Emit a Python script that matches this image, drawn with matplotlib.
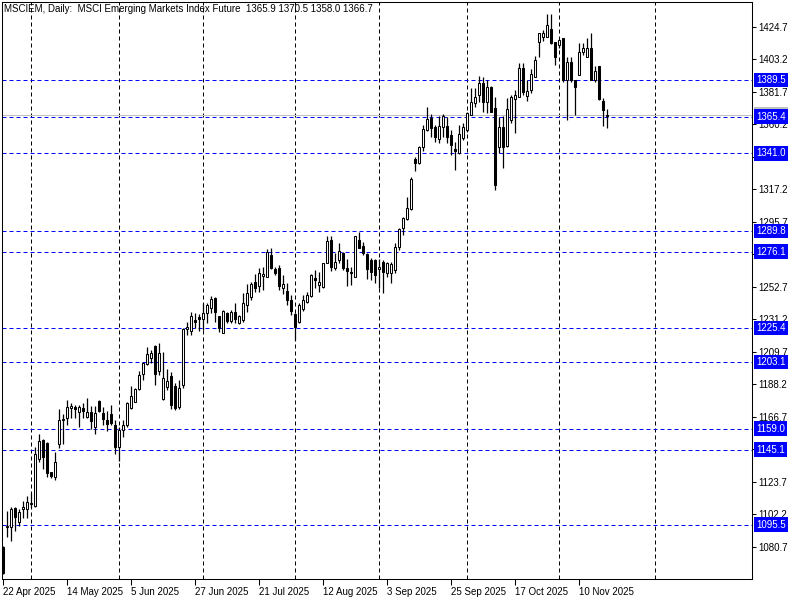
import matplotlib
matplotlib.use("Agg")
import matplotlib.pyplot as plt
import matplotlib.transforms as mtransforms
import numpy as np

# MT4-style daily chart of the MSCI EM index future with horizontal levels.

TITLE = "MSCIEM, Daily:  MSCI Emerging Markets Index Future  1365.9 1370.5 1358.0 1366.7"

opens = [
    1080.9, 1093.7, 1094.1, 1106.3, 1097.4, 1105.6, 1105.6, 1108.9, 1107.9, 1138.7,
    1151.5, 1149.7, 1130.1, 1127.2, 1148.6, 1164.7, 1165.8, 1172.8, 1173.1, 1169.8,
    1172.4, 1166.9, 1169.8, 1160.3, 1177.3, 1169.1, 1164.7, 1168.5, 1161.2, 1146.6,
    1158.1, 1161.2, 1172.4, 1176.8, 1185.2, 1194.9, 1201.5, 1205.5, 1213.7, 1197.3,
    1178.4, 1186.7, 1193.8, 1187.2, 1173.3, 1187.8, 1224.7, 1223.8, 1230.9, 1233.0,
    1231.3, 1235.7, 1238.6, 1245.6, 1233.5, 1222.5, 1235.7, 1230.2, 1235.9, 1229.1,
    1230.9, 1240.8, 1245.9, 1256.2, 1253.3, 1260.2, 1259.5, 1273.8, 1264.4, 1265.1,
    1251.8, 1250.2, 1244.1, 1234.8, 1229.7, 1237.9, 1243.0, 1246.7, 1258.4, 1254.0,
    1252.5, 1268.8, 1283.8, 1265.1, 1270.6, 1275.2, 1265.1, 1262.8, 1259.5, 1283.8,
    1279.8, 1274.7, 1270.6, 1270.6, 1264.4, 1269.4, 1261.7, 1261.9, 1263.7, 1279.3,
    1291.5, 1297.5, 1304.1, 1337.2, 1334.5, 1345.1, 1356.6, 1364.7, 1358.3, 1350.6,
    1358.3, 1359.2, 1353.2, 1344.2, 1341.1, 1351.1, 1356.6, 1366.5, 1374.2, 1379.7,
    1387.8, 1375.3, 1385.2, 1371.3, 1345.5, 1358.3, 1346.0, 1363.2, 1376.9, 1378.6,
    1397.4, 1379.1, 1383.0, 1391.4, 1415.0, 1418.3, 1417.9, 1423.2, 1415.0, 1412.8,
    1417.6, 1389.6, 1401.7, 1389.6, 1392.9, 1408.4, 1404.7, 1411.0, 1389.6, 1398.9,
    1376.0, 1365.9,
]
highs = [
    1081.5, 1104.5, 1107.3, 1106.9, 1105.6, 1110.9, 1114.4, 1116.6, 1147.0, 1155.4,
    1151.8, 1150.1, 1130.5, 1143.5, 1172.0, 1168.5, 1177.9, 1176.1, 1174.6, 1174.6,
    1175.7, 1179.0, 1173.9, 1173.9, 1177.6, 1173.5, 1170.6, 1174.4, 1164.7, 1160.3,
    1164.7, 1176.8, 1187.2, 1185.7, 1197.1, 1203.3, 1213.2, 1211.0, 1214.3, 1215.4,
    1209.9, 1198.4, 1196.5, 1189.2, 1191.2, 1225.4, 1229.7, 1236.3, 1235.7, 1234.8,
    1242.3, 1242.3, 1246.7, 1245.9, 1233.8, 1237.5, 1236.3, 1237.5, 1241.9, 1234.2,
    1248.5, 1254.7, 1256.2, 1261.3, 1265.1, 1266.1, 1277.6, 1278.3, 1266.1, 1267.2,
    1260.6, 1255.5, 1247.4, 1235.3, 1242.3, 1247.4, 1249.6, 1261.3, 1263.9, 1262.8,
    1268.8, 1286.4, 1286.4, 1275.4, 1282.0, 1276.0, 1271.0, 1266.1, 1286.6, 1289.3,
    1282.7, 1275.4, 1271.7, 1271.0, 1271.0, 1270.6, 1269.4, 1269.4, 1281.6, 1291.5,
    1299.2, 1312.4, 1325.7, 1338.9, 1346.0, 1359.9, 1372.0, 1367.1, 1359.9, 1365.8,
    1367.1, 1364.9, 1356.6, 1348.8, 1359.9, 1361.0, 1368.7, 1384.1, 1384.1, 1392.3,
    1391.8, 1389.6, 1385.7, 1378.6, 1364.9, 1365.8, 1377.5, 1379.7, 1383.0, 1400.7,
    1400.7, 1389.6, 1396.7, 1405.5, 1420.9, 1422.7, 1433.3, 1433.3, 1415.0, 1416.6,
    1417.6, 1405.1, 1405.1, 1389.6, 1413.9, 1413.9, 1417.2, 1420.9, 1398.9, 1398.9,
    1377.5, 1370.5,
]
lows = [
    1063.0, 1087.1, 1084.8, 1091.5, 1094.6, 1100.1, 1100.1, 1106.3, 1107.3, 1137.1,
    1132.5, 1127.2, 1126.5, 1125.0, 1146.0, 1148.8, 1161.4, 1165.8, 1166.2, 1160.3,
    1165.8, 1166.2, 1158.7, 1155.4, 1170.2, 1161.4, 1157.6, 1161.4, 1142.0, 1137.8,
    1153.6, 1160.3, 1171.9, 1176.6, 1184.5, 1191.2, 1201.1, 1202.2, 1187.8, 1194.4,
    1177.9, 1184.5, 1171.9, 1171.3, 1171.9, 1185.9, 1220.9, 1220.9, 1225.4, 1223.8,
    1224.2, 1228.7, 1235.7, 1229.7, 1223.1, 1222.3, 1228.7, 1228.7, 1228.7, 1228.2,
    1229.7, 1236.3, 1244.1, 1249.6, 1249.6, 1250.7, 1259.1, 1264.4, 1260.6, 1250.7,
    1248.1, 1240.8, 1234.2, 1217.6, 1229.1, 1237.0, 1241.9, 1245.9, 1251.8, 1249.6,
    1251.8, 1268.4, 1263.5, 1263.9, 1268.4, 1263.9, 1253.3, 1254.0, 1259.1, 1278.3,
    1273.8, 1257.8, 1257.3, 1255.1, 1252.0, 1248.9, 1259.5, 1255.1, 1261.7, 1277.2,
    1287.1, 1297.0, 1303.6, 1329.6, 1334.1, 1342.9, 1355.9, 1352.1, 1348.8, 1348.2,
    1352.1, 1348.2, 1340.0, 1330.1, 1340.7, 1350.0, 1355.4, 1366.3, 1372.0, 1375.3,
    1368.7, 1367.6, 1368.5, 1316.9, 1341.1, 1331.2, 1345.1, 1361.0, 1354.4, 1378.2,
    1379.7, 1375.9, 1380.8, 1391.4, 1405.1, 1415.6, 1417.9, 1413.5, 1399.6, 1410.6,
    1388.5, 1363.2, 1388.5, 1366.5, 1392.9, 1406.2, 1404.7, 1389.6, 1388.5, 1376.4,
    1359.2, 1358.0,
]
closes = [
    1063.7, 1094.6, 1105.8, 1100.7, 1103.8, 1107.1, 1110.3, 1109.6, 1142.0, 1150.8,
    1140.4, 1129.8, 1127.7, 1136.9, 1164.7, 1165.6, 1173.1, 1173.9, 1171.8, 1173.5,
    1170.8, 1169.8, 1164.2, 1169.1, 1170.8, 1165.2, 1161.8, 1162.9, 1147.0, 1158.1,
    1161.2, 1176.1, 1180.6, 1185.0, 1194.5, 1202.6, 1208.2, 1208.8, 1194.9, 1208.8,
    1192.3, 1190.5, 1174.6, 1172.6, 1185.9, 1224.7, 1226.0, 1233.5, 1229.5, 1231.3,
    1235.7, 1240.8, 1244.7, 1236.3, 1225.4, 1236.8, 1230.4, 1236.3, 1231.3, 1233.5,
    1241.9, 1248.5, 1254.7, 1251.8, 1261.7, 1261.1, 1276.0, 1265.1, 1261.7, 1253.3,
    1254.5, 1244.1, 1237.0, 1226.4, 1240.8, 1244.1, 1247.4, 1260.6, 1257.3, 1256.2,
    1268.4, 1283.3, 1266.1, 1268.9, 1276.4, 1265.1, 1263.5, 1261.7, 1286.4, 1278.7,
    1275.0, 1264.6, 1262.8, 1260.6, 1266.1, 1262.8, 1268.4, 1267.9, 1278.9, 1290.9,
    1298.1, 1304.7, 1323.9, 1334.9, 1345.5, 1357.0, 1363.6, 1357.7, 1352.1, 1359.2,
    1365.8, 1352.1, 1346.6, 1342.9, 1353.7, 1358.3, 1368.0, 1375.3, 1378.6, 1387.8,
    1375.3, 1385.2, 1368.7, 1320.2, 1358.3, 1345.5, 1370.3, 1378.4, 1379.7, 1397.4,
    1381.7, 1382.6, 1393.6, 1402.9, 1420.5, 1420.9, 1426.0, 1413.9, 1405.1, 1416.1,
    1389.6, 1401.7, 1389.6, 1385.2, 1408.4, 1410.6, 1411.0, 1389.6, 1395.6, 1376.9,
    1369.8, 1366.7,
]

# bottom axis: one date label every 16 bars, starting at the first bar
date_labels = ["22 Apr 2025", "14 May 2025", "5 Jun 2025", "27 Jun 2025", "21 Jul 2025",
               "12 Aug 2025", "3 Sep 2025", "25 Sep 2025", "17 Oct 2025", "10 Nov 2025"]
date_step = 16
# first trading day of each month (bar index), drawn as vertical grid
month_start_bars = [7, 29, 50, 73, 94, 116, 139, 163]

price_ticks = [1424.7, 1403.2, 1381.7, 1360.2, 1338.7, 1317.2, 1295.7, 1274.2, 1252.7,
               1231.2, 1209.7, 1188.2, 1166.7, 1145.2, 1123.7, 1102.2, 1080.7]
levels = [1389.5, 1365.4, 1341.0, 1289.8, 1276.1, 1225.4, 1203.1, 1159.0, 1145.1, 1095.5]
bid = 1366.7

plt.rcParams["font.family"] = ["Liberation Sans", "DejaVu Sans"]
FS = 7

W, H = 800, 600
fig = plt.figure(figsize=(8, 6), dpi=100)
left_px, right_px, top_px, bottom_px = 2, 752, 2, 579
ax = fig.add_axes([left_px / W, 1 - bottom_px / H,
                   (right_px - left_px) / W, (bottom_px - top_px) / H])

px_per_bar = 4.0
x0 = (left_px - 2.7) / px_per_bar
ax.set_xlim(x0, x0 + (right_px - left_px) / px_per_bar)
ax.set_ylim(1059.5, 1441.2)

o = np.asarray(opens)
h = np.asarray(highs)
l = np.asarray(lows)
c = np.asarray(closes)
x = np.arange(len(o))
up = c >= o

ax.vlines(x, l, h, color="black", lw=0.9, zorder=3)
ax.bar(x[up], np.maximum(c - o, 0.4)[up], bottom=o[up], width=0.5,
       facecolor="white", edgecolor="black", lw=0.75, zorder=4)
ax.bar(x[~up], (o - c)[~up], bottom=c[~up], width=0.5,
       facecolor="black", edgecolor="black", lw=0.75, zorder=4)

# vertical grid at month starts
for b in month_start_bars:
    ax.axvline(b, color="black", lw=0.72, ls=(0, (4, 3)), zorder=1)

# horizontal levels
for lv in levels:
    ax.axhline(lv, color="#0000FF", lw=0.72, ls=(0, (4, 3)), zorder=2)
ax.axhline(bid, color="#C0C0C0", lw=0.72, zorder=1.5)

for s in ax.spines.values():
    s.set_color("black")
    s.set_linewidth(0.75)

ax.yaxis.tick_right()
ax.set_yticks(price_ticks)
ax.set_yticklabels([f"{p:.1f}" for p in price_ticks])
ax.tick_params(axis="y", direction="out", length=3, width=0.75, pad=1.5,
               labelsize=FS, colors="black")

ticks = np.arange(len(date_labels)) * date_step
ax.set_xticks(ticks)
ax.set_xticklabels(date_labels, ha="left")
ax.tick_params(axis="x", direction="out", length=4, width=0.75, pad=1.5,
               labelsize=FS, colors="black")

trans = mtransforms.blended_transform_factory(ax.transAxes, ax.transData)
lab_x = 1 + 4 / (right_px - left_px)
# bid label sits behind the 1365.4 box, only its top edge shows
ax.text(lab_x, bid, f"{bid:.1f}", transform=trans, ha="left", va="center",
        fontsize=FS, color="#C0C0C0", zorder=5, clip_on=False,
        bbox=dict(boxstyle="square,pad=0.22", fc="#C0C0C0", ec="none"))
for lv in levels:
    ax.text(lab_x, lv, f"{lv:.1f}", transform=trans, ha="left", va="center",
            fontsize=FS, color="white", zorder=6, clip_on=False,
            bbox=dict(boxstyle="square,pad=0.22", fc="#0000FF", ec="none"))

fig.text(4 / W, 1 - 4 / H, TITLE, ha="left", va="top", fontsize=FS, color="black")

fig.savefig("out.png", dpi=100, facecolor="white")
